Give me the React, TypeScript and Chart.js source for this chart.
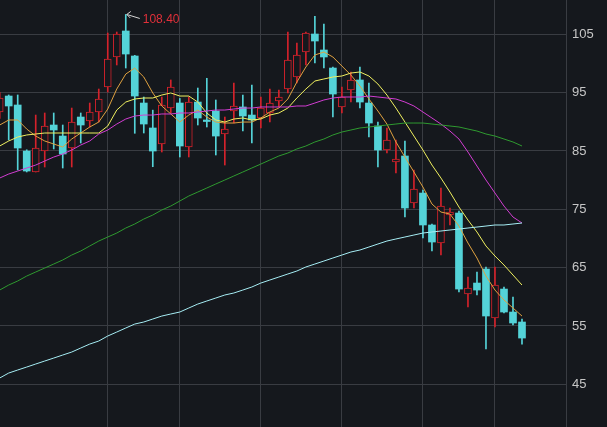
import React, { useEffect, useRef } from 'react';
import { Chart, registerables } from 'chart.js';

Chart.register(...registerables);

// Daily candles (index = trading day)
const opens = [91.68, 94.42, 92.88, 84.99, 81.39, 84.99, 89.45, 87.56, 85.51, 90.82, 90.14, 91.68, 95.96, 101.11, 105.57, 101.28, 93.22, 88.94, 86.19, 92.36, 93.22, 85.68, 93.39, 90.31, 91.85, 87.91, 91.85, 92.54, 91.16, 90.65, 91.51, 93.57, 95.62, 97.68, 101.97, 105.05, 102.31, 99.22, 92.54, 95.45, 97.17, 93.22, 89.28, 85.16, 83.11, 84.14, 76.08, 77.79, 72.31, 69.22, 74.02, 74.36, 60.48, 62.36, 64.76, 56.36, 61.33, 57.39, 55.68];
const highs = [95.0, 94.6, 94.6, 85.2, 91.16, 91.51, 91.51, 89.45, 92.36, 91.51, 93.22, 95.62, 105.22, 105.39, 108.40, 101.4, 94.25, 92.0, 94.25, 97.17, 94.0, 94.25, 95.79, 97.46, 93.74, 90.82, 96.65, 94.59, 96.31, 94.25, 95.62, 95.45, 105.39, 103.51, 105.39, 108.1, 106.77, 99.4, 95.96, 98.54, 99.39, 96.65, 89.96, 88.94, 86.88, 86.71, 81.74, 78.31, 72.48, 78.65, 75.22, 74.71, 63.39, 64.25, 65.11, 65.11, 61.68, 59.96, 56.19];
const lows = [90.6, 86.88, 81.74, 81.4, 81.39, 82.25, 85.34, 82.08, 82.25, 86.36, 89.11, 89.96, 95.11, 99.74, 99.22, 88.03, 88.08, 82.3, 84.82, 91.51, 83.97, 83.97, 89.45, 89.11, 84.31, 82.59, 89.79, 88.42, 86.36, 88.94, 89.96, 92.54, 94.94, 96.65, 99.74, 100.08, 99.22, 90.82, 91.51, 93.39, 92.36, 87.39, 82.25, 84.65, 81.22, 73.68, 75.22, 70.08, 67.85, 67.16, 72.31, 60.82, 58.25, 60.31, 51.05, 54.82, 57.22, 55.16, 51.9];
const closes = [94.08, 92.71, 85.51, 81.56, 85.51, 89.28, 88.59, 84.48, 89.96, 89.45, 91.68, 93.91, 100.77, 105.05, 101.62, 94.42, 89.62, 84.99, 92.88, 95.96, 85.85, 93.39, 90.65, 90.05, 87.56, 88.76, 92.71, 90.99, 90.31, 92.36, 93.22, 94.25, 100.59, 101.45, 105.22, 103.85, 101.11, 94.76, 94.25, 97.17, 93.39, 89.79, 85.16, 86.88, 83.62, 75.22, 78.48, 72.31, 69.39, 75.56, 74.53, 61.33, 61.51, 61.16, 56.71, 62.02, 57.39, 55.51, 52.93];

// Moving averages
const ma5 = [89.45, 90.31, 90.31, 88.76, 87.56, 86.71, 86.19, 85.68, 87.05, 88.08, 89.11, 89.96, 92.19, 95.62, 98.19, 99.22, 97.68, 94.94, 92.71, 91.34, 89.96, 91.16, 92.02, 90.82, 89.96, 89.79, 89.79, 89.96, 89.96, 90.65, 91.68, 92.36, 93.91, 96.82, 99.39, 101.45, 101.97, 101.11, 99.56, 98.02, 96.14, 93.91, 91.85, 89.62, 86.54, 83.96, 81.39, 78.82, 75.91, 74.53, 74.19, 72.13, 69.22, 66.65, 63.56, 61.16, 59.45, 58.08, 56.70];
const ma10 = [85.85, 86.71, 87.39, 87.74, 87.91, 88.08, 88.08, 88.08, 88.08, 88.08, 88.08, 88.08, 89.28, 92.02, 93.39, 93.91, 94.08, 94.08, 94.59, 94.94, 94.42, 94.42, 93.39, 91.51, 90.31, 89.96, 90.48, 90.65, 90.31, 90.48, 91.16, 91.51, 92.36, 94.08, 95.62, 96.99, 97.34, 97.68, 97.85, 98.36, 98.54, 97.85, 96.48, 94.59, 92.36, 89.96, 87.56, 85.16, 82.59, 80.36, 77.96, 75.39, 73.16, 71.11, 68.71, 66.99, 65.45, 63.73, 62.02];
const ma20 = [80.36, 81.05, 81.56, 82.08, 82.59, 83.28, 83.96, 84.48, 85.16, 86.02, 86.71, 87.91, 88.59, 89.62, 90.48, 90.99, 91.16, 91.16, 91.34, 91.34, 91.51, 91.51, 91.68, 91.85, 92.02, 92.02, 92.19, 92.36, 92.36, 92.54, 92.54, 92.54, 92.54, 92.71, 92.71, 93.22, 93.74, 94.08, 94.25, 94.25, 94.25, 94.42, 94.25, 94.08, 93.91, 93.39, 92.71, 91.68, 90.65, 89.62, 88.42, 87.05, 84.82, 82.42, 80.02, 77.79, 75.56, 73.68, 72.65];
const ma60 = [61.16, 62.02, 62.71, 63.56, 64.25, 64.93, 65.62, 66.31, 67.16, 67.85, 68.71, 69.56, 70.25, 70.93, 71.79, 72.48, 73.33, 74.02, 74.88, 75.56, 76.42, 77.28, 77.96, 78.65, 79.34, 80.02, 80.71, 81.39, 82.08, 82.76, 83.45, 84.14, 84.65, 85.34, 85.85, 86.54, 87.05, 87.74, 88.25, 88.59, 88.94, 89.11, 89.28, 89.45, 89.62, 89.79, 89.79, 89.79, 89.62, 89.45, 89.28, 89.11, 88.76, 88.42, 87.91, 87.56, 87.05, 86.54, 85.85];
const ma120 = [46.08, 46.93, 47.45, 47.96, 48.48, 48.99, 49.50, 50.02, 50.53, 51.22, 51.90, 52.42, 53.28, 53.96, 54.65, 55.33, 55.68, 56.19, 56.70, 57.05, 57.39, 58.08, 58.76, 59.28, 59.79, 60.31, 60.65, 61.16, 61.68, 62.36, 62.88, 63.39, 63.91, 64.42, 65.11, 65.62, 66.13, 66.65, 67.16, 67.68, 68.02, 68.53, 69.05, 69.56, 69.91, 70.25, 70.59, 70.93, 71.11, 71.28, 71.45, 71.62, 71.79, 71.96, 72.13, 72.31, 72.31, 72.48, 72.65];

// Axis ticks
const priceTicks = [45, 55, 65, 75, 85, 95, 105];
const monthStarts = [12, 20, 29, 38, 47, 55];

const BG = '#15181d';
const GRID = '#393c42';
const RED = '#d4222b';
const CYAN = '#54d3d8';

const maxLabelPlugin = {
  id: 'maxLabel',
  afterDatasetsDraw(chart: any) {
    const { ctx, scales } = chart;
    const xs = scales.x;
    const ys = scales.y;
    let mi = 0;
    highs.forEach((h, i) => { if (h > highs[mi]) mi = i; });
    const px = xs.getPixelForValue(mi);
    const py = ys.getPixelForValue(highs[mi]);
    ctx.save();
    ctx.strokeStyle = '#d6d6d6';
    ctx.lineWidth = 1;
    ctx.beginPath();
    ctx.moveTo(px + 1, py);
    ctx.lineTo(px + 14, py + 4);
    ctx.moveTo(px + 1, py);
    ctx.lineTo(px + 5, py - 3);
    ctx.moveTo(px + 1, py);
    ctx.lineTo(px + 4.5, py + 3.5);
    ctx.stroke();
    ctx.fillStyle = '#e0303a';
    ctx.font = '12px "Liberation Sans", Arial, sans-serif';
    ctx.textAlign = 'left';
    ctx.textBaseline = 'middle';
    ctx.fillText(highs[mi].toFixed(2), px + 17, py + 5);
    ctx.restore();
  },
};

export default function App() {
  const ref = useRef<HTMLCanvasElement>(null);

  useEffect(() => {
    const idx = opens.map((_, i) => i);
    const up = idx.map((i) => closes[i] >= opens[i]);
    const line = (label: string, arr: number[], color: string) => ({
      type: 'line' as const,
      label,
      data: idx.map((i) => ({ x: i, y: arr[i] })),
      borderColor: color,
      borderWidth: 1,
      pointRadius: 0,
      tension: 0,
      fill: false,
      order: 0,
      clip: 0,
    });

    const chart = new Chart(ref.current as HTMLCanvasElement, {
      type: 'bar',
      data: {
        datasets: [
          line('MA120', ma120, '#a6edf4'),
          line('MA60', ma60, '#2f9a30'),
          line('MA20', ma20, '#d23dd2'),
          line('MA10', ma10, '#f0f060'),
          line('MA5', ma5, '#e0a240'),
          {
            type: 'bar',
            label: 'body',
            data: idx.map((i) => ({ x: i, y: [opens[i], closes[i]] })),
            backgroundColor: idx.map((i) => (up[i] ? BG : CYAN)),
            borderColor: idx.map((i) => (up[i] ? RED : CYAN)),
            borderWidth: idx.map((i) => (up[i] ? 1 : 0)),
            borderSkipped: false,
            barThickness: 7,
            grouped: false,
            order: 1,
            clip: 0,
          } as any,
          {
            type: 'bar',
            label: 'wick',
            data: idx.map((i) => ({ x: i, y: [lows[i], highs[i]] })),
            backgroundColor: idx.map((i) => (up[i] ? RED : CYAN)),
            borderWidth: 0,
            barThickness: 1,
            grouped: false,
            order: 2,
            clip: 0,
          } as any,
        ],
      },
      options: {
        responsive: false,
        maintainAspectRatio: false,
        animation: false,
        devicePixelRatio: 1,
        layout: { padding: 0 },
        plugins: {
          legend: { display: false },
          tooltip: { enabled: false },
        },
        scales: {
          x: {
            type: 'linear',
            min: 0.0333,
            max: 62.887,
            offset: false,
            afterBuildTicks: (s: any) => {
              s.ticks = monthStarts.map((v) => ({ value: v }));
            },
            afterFit: (s: any) => {
              s.height = 0;
              s.paddingLeft = 0;
              s.paddingRight = 0;
            },
            grid: { color: GRID, drawTicks: false, offset: false, lineWidth: 1 },
            border: { display: false },
            ticks: { display: false },
          },
          y: {
            type: 'linear',
            position: 'right',
            min: 37.68,
            max: 110.88,
            afterBuildTicks: (s: any) => {
              s.ticks = priceTicks.map((v) => ({ value: v }));
            },
            afterFit: (s: any) => {
              s.width = 41;
              s.paddingTop = 0;
              s.paddingBottom = 0;
            },
            grid: { color: GRID, drawTicks: false, lineWidth: 1 },
            border: { display: true, color: GRID },
            ticks: {
              color: '#c6c6c6',
              padding: 6,
              font: { family: '"Liberation Sans", Arial, sans-serif', size: 13 },
              callback: (v: any) => String(v),
            },
          },
        },
      } as any,
      plugins: [maxLabelPlugin],
    });
    return () => chart.destroy();
  }, []);

  return (
    <div style={{ position: 'fixed', left: 0, top: 0, width: 607, height: 427, background: BG }}>
      <canvas ref={ref} width={607} height={427} style={{ display: 'block', width: 607, height: 427 }} />
    </div>
  );
}
